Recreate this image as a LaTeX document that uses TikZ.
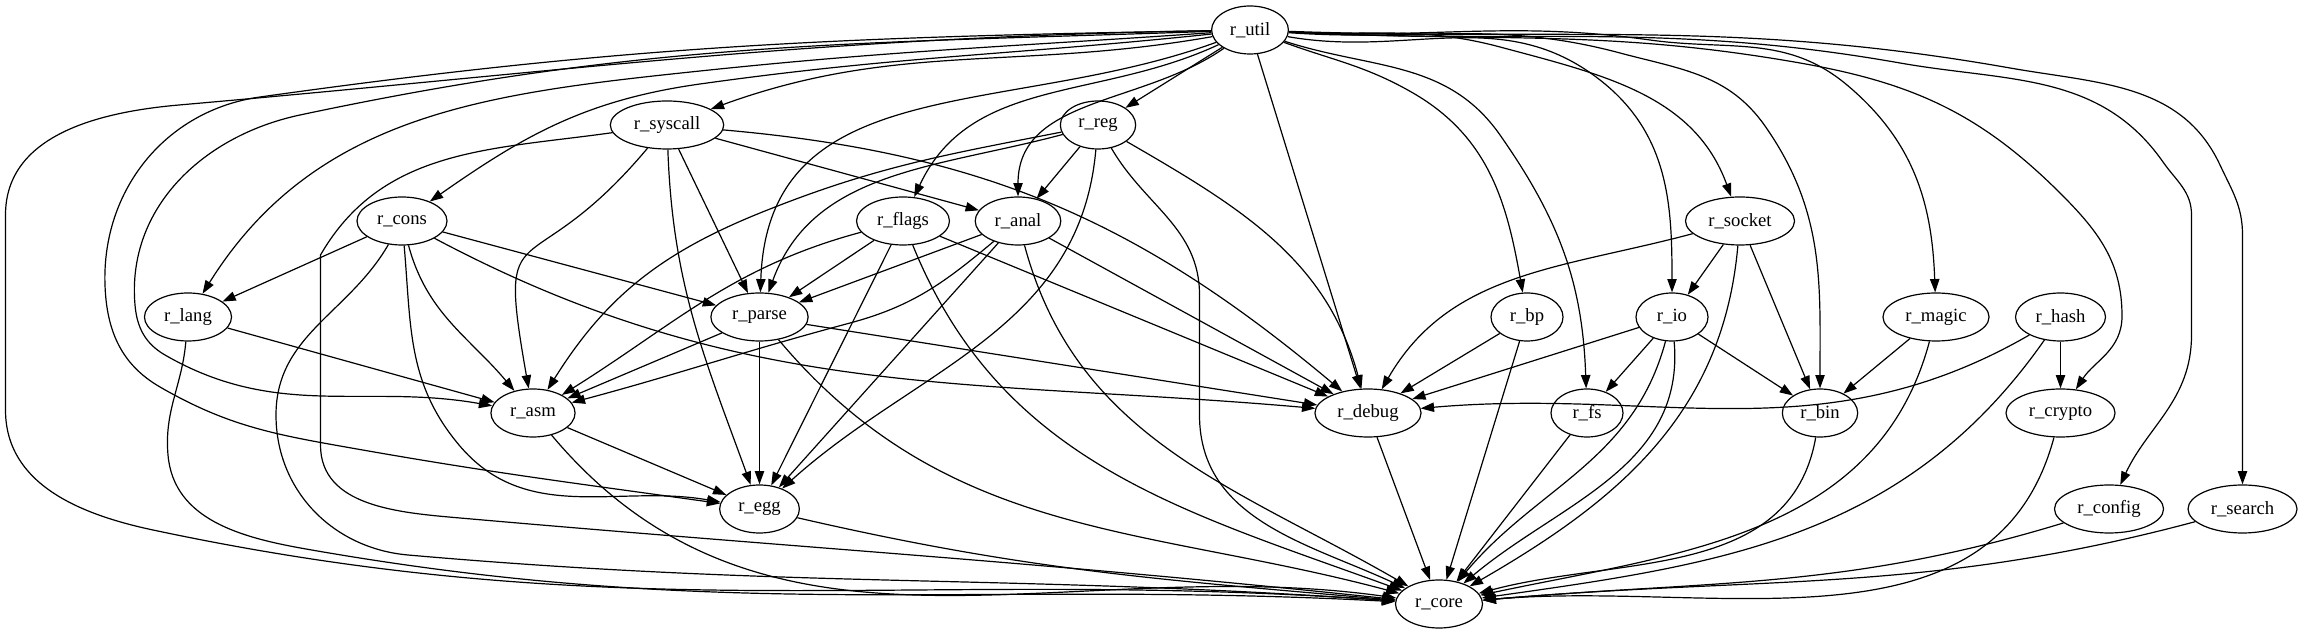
\documentclass[tikz,border=0pt]{standalone}
\usepackage{fontspec}
\setmainfont{Liberation Serif}
\usetikzlibrary{shapes.geometric,arrows.meta}

\begin{document}
\begin{tikzpicture}[x=0.75pt,y=0.75pt]
        \tikzstyle{every node}=[ellipse, draw=black, line width=0.9pt, inner xsep=5.2pt, inner ysep=0pt, minimum width=54pt, minimum height=36pt, font=\fontsize{14}{16}\selectfont, text=black]
        \tikzstyle{edge}=[black, line width=0.9pt, -{Triangle[length=10pt,width=7pt]}]

        \useasboundingbox (0,0) rectangle (2304,635);

        \node (util) at (1250,605) {r\_util};
        \node (syscall) at (667,510) {r\_syscall};
        \node (reg) at (1098,510) {r\_reg};
        \node (cons) at (402,414) {r\_cons};
        \node (flags) at (903,414) {r\_flags};
        \node (anal) at (1018,414) {r\_anal};
        \node (socket) at (1740,414) {r\_socket};
        \node (lang) at (188,318) {r\_lang};
        \node (parse) at (759.5,318) {r\_parse};
        \node (bp) at (1527,318) {r\_bp};
        \node (io) at (1672,318) {r\_io};
        \node (magic) at (1936,318) {r\_magic};
        \node (hash) at (2060.5,318) {r\_hash};
        \node (asm) at (533,222) {r\_asm};
        \node (debug) at (1368,222) {r\_debug};
        \node (fs) at (1587,222) {r\_fs};
        \node (bin) at (1820,222) {r\_bin};
        \node (crypto) at (2060.5,222) {r\_crypto};
        \node (egg) at (759.5,126) {r\_egg};
        \node (config) at (2109,126) {r\_config};
        \node (search) at (2242.5,126) {r\_search};
        \node (core) at (1439,31) {r\_core};

        % r_util, left side
        \draw[edge] (util) to[out=181,in=5] (179,530) to[out=185,in=90] (5.5,420) -- (5.5,225) to[out=-90,in=168] (153,105) to[out=-12,in=176] (core);
        \draw[edge] (util) to[out=181,in=8] (260,538) to[out=188,in=92] (105,350) to[out=-88,in=150] (160,248) to[out=-30,in=170] (357,186) to[out=-10,in=172] (egg);
        \draw[edge] (util) to[out=182,in=12] (300,520) to[out=192,in=95] (135,330) to[out=-85,in=150] (165,280) to[out=-30,in=170] (asm);
        \draw[edge] (util) to[out=184,in=6] (700,564) to[out=186,in=58] (lang);
        \draw[edge] (util) to[out=186,in=8] (700,551) to[out=188,in=35] (cons);
        \draw[edge] (util) to[out=190,in=20] (syscall);
        \draw[edge] (util) to[out=200,in=88,looseness=1.1] (parse);
        \draw[edge] (util) to[out=205,in=65] (flags);
        \draw[edge] (util) to[out=215,in=90] (anal);
        \draw[edge] (util) -- (reg);
        \draw[edge] (util) -- (debug);

        % r_util, right side
        \draw[edge] (util) to[out=-20,in=150] (1413,542) to[out=-30,in=100] (bp);
        \draw[edge] (util) to[out=-18,in=125] (1500,500) to[out=-55,in=92] (fs);
        \draw[edge] (util) to[out=-10,in=142] (1600,555) to[out=-38,in=90] (io);
        \draw[edge] (util) to[out=-3,in=165] (1500,588) to[out=-15,in=110] (socket);
        \draw[edge] (util) to[out=-4,in=165] (1620,582) to[out=-15,in=125] (1765,509) to[out=-55,in=90] (bin);
        \draw[edge] (util) to[out=-3,in=172] (1650,595) to[out=-8,in=140] (1847,550) to[out=-40,in=92] (magic);
        \draw[edge] (util) to[out=-3,in=170] (1800,572) to[out=-10,in=135] (2061,441) to[out=-45,in=90] (2122,319) to[out=-90,in=57] (crypto);
        \draw[edge] (util) to[out=-3,in=170] (1900,572) to[out=-10,in=125] (2163,473) to[out=-55,in=90] (2191.5,420) -- (2191.5,300) to[out=-90,in=65] (config);
        \draw[edge] (util) to[out=-2,in=170] (2010,567) to[out=-10,in=115] (2220,470) to[out=-65,in=90] (2242.5,400) -- (search);

        % r_syscall
        \draw[edge] (syscall) to[out=188,in=60] (320.5,380) -- (320.5,190) to[out=-90,in=175] (460,117) to[out=-5,in=174] (core);
        \draw[edge] (syscall) to[out=-130,in=100,looseness=1.8] (asm);
        \draw[edge] (syscall) -- (parse);
        \draw[edge] (syscall) to[out=-88,in=110] (egg);
        \draw[edge] (syscall) -- (anal);
        \draw[edge] (syscall) to[out=-5,in=140] (debug);

        % r_reg
        \draw[edge] (reg) -- (anal);
        \draw[edge] (reg) to[out=195,in=70] (parse);
        \draw[edge] (reg) to[out=191,in=22] (760,422) to[out=202,in=58] (asm);
        \draw[edge] (reg) to[out=-95,in=42] (egg);
        \draw[edge] (reg) to[out=-30,in=105] (debug);
        \draw[edge] (reg) to[out=-60,in=90] (1199.5,340) -- (1199.5,220) to[out=-90,in=155] (core);

        % r_cons
        \draw[edge] (cons) -- (lang);
        \draw[edge] (cons) -- (parse);
        \draw[edge] (cons) to[out=-75,in=130] (asm);
        \draw[edge] (cons) to[out=-85,in=130] (459,190) to[out=-50,in=170] (egg);
        \draw[edge] (cons) to[out=-120,in=90] (276,220) to[out=-90,in=175] (408,80) to[out=-5,in=176] (core);
        \draw[edge] (cons) to[out=-28,in=175] (debug);

        % r_lang
        \draw[edge] (lang) -- (asm);
        \draw[edge] (lang) to[out=-95,in=95] (168,180) to[out=-85,in=170] (306,86) to[out=-10,in=177] (core);

        % r_parse
        \draw[edge] (parse) -- (asm);
        \draw[edge] (parse) -- (egg);
        \draw[edge] (parse) -- (debug);
        \draw[edge] (parse) to[out=-50,in=165] (core);

        % r_flags
        \draw[edge] (flags) -- (parse);
        \draw[edge] (flags) to[out=-165,in=32] (asm);
        \draw[edge] (flags) -- (egg);
        \draw[edge] (flags) -- (debug);
        \draw[edge] (flags) to[out=-68,in=160] (core);

        % r_anal
        \draw[edge] (anal) -- (parse);
        \draw[edge] (anal) to[out=-140,in=15] (850,312) to[out=-165,in=15] (asm);
        \draw[edge] (anal) -- (egg);
        \draw[edge] (anal) -- (debug);
        \draw[edge] (anal) to[out=-75,in=150] (core);

        % lower ranks
        \draw[edge] (asm) -- (egg);
        \draw[edge] (asm) to[out=-50,in=172] (core);
        \draw[edge] (egg) to[out=-13,in=175] (core);
        \draw[edge] (debug) -- (core);
        \draw[edge] (bp) -- (debug);
        \draw[edge] (bp) -- (core);
        \draw[edge] (socket) -- (io);
        \draw[edge] (socket) -- (bin);
        \draw[edge] (socket) to[out=195,in=60] (debug);
        \draw[edge] (socket) to[out=-95,in=30] (core);
        \draw[edge] (io) -- (debug);
        \draw[edge] (io) -- (fs);
        \draw[edge] (io) -- (bin);
        \draw[edge] (io) to[out=-105,in=50] (core);
        \draw[edge] (io) to[out=-85,in=40] (core);
        \draw[edge] (fs) -- (core);
        \draw[edge] (bin) to[out=-100,in=15] (core);
        \draw[edge] (magic) -- (bin);
        \draw[edge] (magic) to[out=-105,in=12] (core);
        \draw[edge] (hash) to[out=-150,in=5] (debug);
        \draw[edge] (hash) -- (crypto);
        \draw[edge] (hash) to[out=-125,in=8] (core);
        \draw[edge] (crypto) to[out=-105,in=5] (core);
        \draw[edge] (config) to[out=-163,in=5] (core);
        \draw[edge] (search) to[out=-165,in=5] (core);
    \end{tikzpicture}
\end{document}
